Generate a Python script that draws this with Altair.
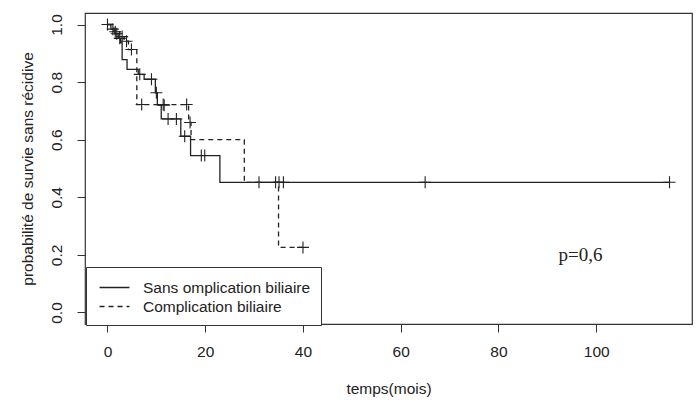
import altair as alt
import pandas as pd

# --- data ---
lab1 = "Sans omplication biliaire"
lab2 = "Complication biliaire"

s1_time = [0, 0.7, 1.5, 2.2, 2.7, 3.0, 4.0, 6.3, 7.5, 9.8, 10.2, 11.0, 15.0, 17.0, 23.0, 115]
s1_surv = [1.0, 0.984, 0.968, 0.952, 0.936, 0.878, 0.844, 0.827, 0.81, 0.763, 0.72, 0.672, 0.612, 0.545, 0.452, 0.452]
c1_time = [0, 1.1, 1.9, 2.5, 6.6, 9.0, 10.0, 11.6, 12.4, 14.1, 15.8, 19.2, 19.9, 31, 34.4, 35.1, 36, 65, 115]
c1_surv = [1.0, 0.984, 0.968, 0.952, 0.827, 0.81, 0.763, 0.72, 0.672, 0.672, 0.612, 0.545, 0.545,
           0.452, 0.452, 0.452, 0.452, 0.452, 0.452]

s2_time = [0, 1.3, 2.5, 3.4, 4.3, 6.0, 16.6, 17.1, 28, 35, 40]
s2_surv = [1.0, 0.975, 0.958, 0.942, 0.913, 0.722, 0.66, 0.60, 0.452, 0.226, 0.226]
c2_time = [1.6, 3.0, 3.9, 4.9, 7.0, 11.4, 16.2, 16.9, 40]
c2_surv = [0.975, 0.958, 0.942, 0.913, 0.722, 0.722, 0.722, 0.66, 0.226]

x_ticks = [0, 20, 40, 60, 80, 100]
y_ticks = [0.0, 0.2, 0.4, 0.6, 0.8, 1.0]
p_text = "p=0,6"
p_pos = (96.8, 0.2)

x_domain = [-4.6, 119.6]
y_domain = [-0.04, 1.04]

lines = pd.DataFrame({
    "t": s1_time + s2_time,
    "s": s1_surv + s2_surv,
    "g": [lab1] * len(s1_time) + [lab2] * len(s2_time),
})
cens = pd.DataFrame({
    "t": c1_time + c2_time,
    "s": c1_surv + c2_surv,
    "g": [lab1] * len(c1_time) + [lab2] * len(c2_time),
})
ptxt = pd.DataFrame({"t": [p_pos[0]], "s": [p_pos[1]], "txt": [p_text]})

FONT = "Liberation Sans"
INK = "#222222"

xs = alt.Scale(domain=x_domain, nice=False, zero=False)
ys = alt.Scale(domain=y_domain, nice=False, zero=False)

xaxis = alt.Axis(values=x_ticks, tickSize=8, labelPadding=12, domain=False, grid=False,
                 title="temps(mois)", titleX=303.5, titleY=64, titleBaseline="middle",
                 titleAlign="center", labelFlush=False,
                 labelFont=FONT, labelFontSize=15.5, labelColor=INK, tickColor="#333333",
                 titleFont=FONT, titleFontSize=15.5, titleColor=INK, titleFontWeight="normal")
yaxis = alt.Axis(values=y_ticks, format=".1f", tickSize=8, labelPadding=13, domain=False, grid=False,
                 labelAngle=270, labelAlign="center", labelBaseline="bottom",
                 title="probabilité de survie sans récidive", titleX=-58, titleY=155.5,
                 titleAngle=270, titleAlign="center", titleBaseline="middle",
                 labelFont=FONT, labelFontSize=15.5, labelColor=INK, tickColor="#333333",
                 titleFont=FONT, titleFontSize=15.5, titleColor=INK, titleFontWeight="normal")

line_layer = alt.Chart(lines).mark_line(interpolate="step-after", color=INK, strokeWidth=1.3).encode(
    x=alt.X("t:Q", scale=xs, axis=xaxis),
    y=alt.Y("s:Q", scale=ys, axis=yaxis),
    strokeDash=alt.StrokeDash(
        "g:N",
        scale=alt.Scale(domain=[lab1, lab2], range=[[1, 0], [5, 4]]),
        legend=alt.Legend(title=None, orient="none", legendX=1, legendY=254,
                          strokeColor="#333333", fillColor="white", padding=10,
                          symbolType="M-1.6,0L1.6,0", symbolSize=350, symbolStrokeWidth=1.3,
                          symbolStrokeColor=INK, symbolOffset=8,
                          labelFont=FONT, labelFontSize=15.5, labelLimit=400,
                          labelColor=INK, labelOffset=18, rowPadding=0),
    ),
    order="t:Q",
)

cens_layer = alt.Chart(cens).mark_point(
    shape="M-1,0L1,0M0,-1L0,1", size=144, filled=False, strokeWidth=1.1, color=INK, opacity=1
).encode(x=alt.X("t:Q", scale=xs), y=alt.Y("s:Q", scale=ys))

text_layer = alt.Chart(ptxt).mark_text(
    font="Liberation Serif", fontSize=19, color=INK, align="center", baseline="middle"
).encode(x=alt.X("t:Q", scale=xs), y=alt.Y("s:Q", scale=ys), text="txt:N")

chart = alt.layer(line_layer, cens_layer, text_layer).properties(
    width=607, height=311,
    autosize=alt.AutoSizeParams(type="none"),
    padding={"left": 85, "top": 13, "right": 8, "bottom": 79},
    background="white",
).configure_view(stroke="#333333", strokeWidth=1.2)

chart.save("out.html", embed_options={"renderer": "svg", "actions": False})
